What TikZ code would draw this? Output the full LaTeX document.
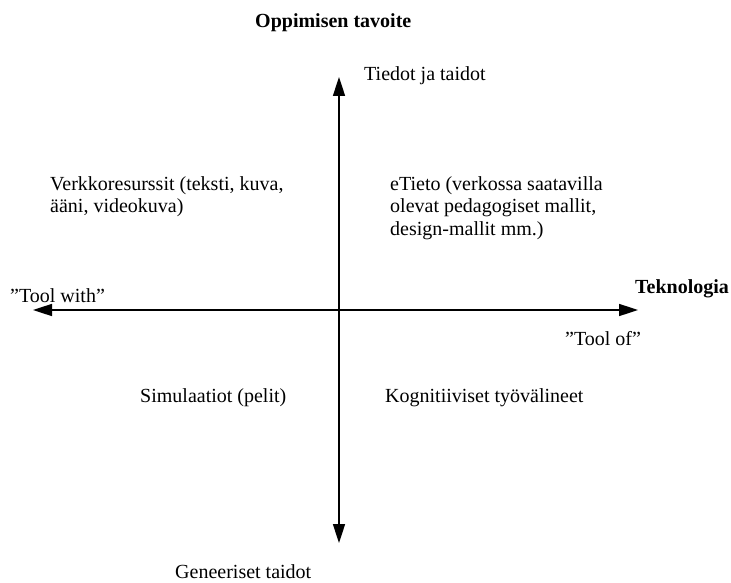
\documentclass[tikz,border=0pt]{standalone}
\usepackage{fontspec}
\setmainfont{Liberation Serif}
\usetikzlibrary{arrows.meta}

\begin{document}
\begin{tikzpicture}[x=1pt,y=-1pt]
            \path[use as bounding box] (0,0) rectangle (731,583);
            \tikzset{lbl/.style={anchor=base west,inner sep=0pt,align=left,font=\fontsize{20}{22.5}\selectfont},
                     axis/.style={line width=1.6pt,{Triangle[length=19pt,width=12pt]}-{Triangle[length=19pt,width=12pt]}}}
            \coordinate (top) at (339,77);
            \coordinate (bottom) at (339,543);
            \coordinate (left) at (33,310);
            \coordinate (right) at (638,310);
            \draw[axis] (bottom) -- (top);
            \draw[axis] (left) -- (right);
            \node[lbl,font=\fontsize{20}{22.5}\selectfont\bfseries] (goal) at (255,28){Oppimisen tavoite};
            \node[lbl] (knowledge) at (364,81){Tiedot ja taidot};
            \node[lbl] (generic) at (175,578){Geneeriset taidot};
            \node[lbl,font=\fontsize{20}{22.5}\selectfont\bfseries] (tech) at (635,293){Teknologia};
            \node[lbl] (toolwith) at (10,302){”Tool with”};
            \node[lbl] (toolof) at (565,345){”Tool of”};
            \node[lbl] (resources) at (50,212.5){Verkkoresurssit (teksti, kuva,\\ääni, videokuva)};
            \node[lbl] (etieto) at (390,235){eTieto (verkossa saatavilla\\olevat pedagogiset mallit,\\design-mallit mm.)};
            \node[lbl] (simulation) at (140,402){Simulaatiot (pelit)};
            \node[lbl] (cognitive) at (385,402){Kognitiiviset työvälineet};
          \end{tikzpicture}
\end{document}
